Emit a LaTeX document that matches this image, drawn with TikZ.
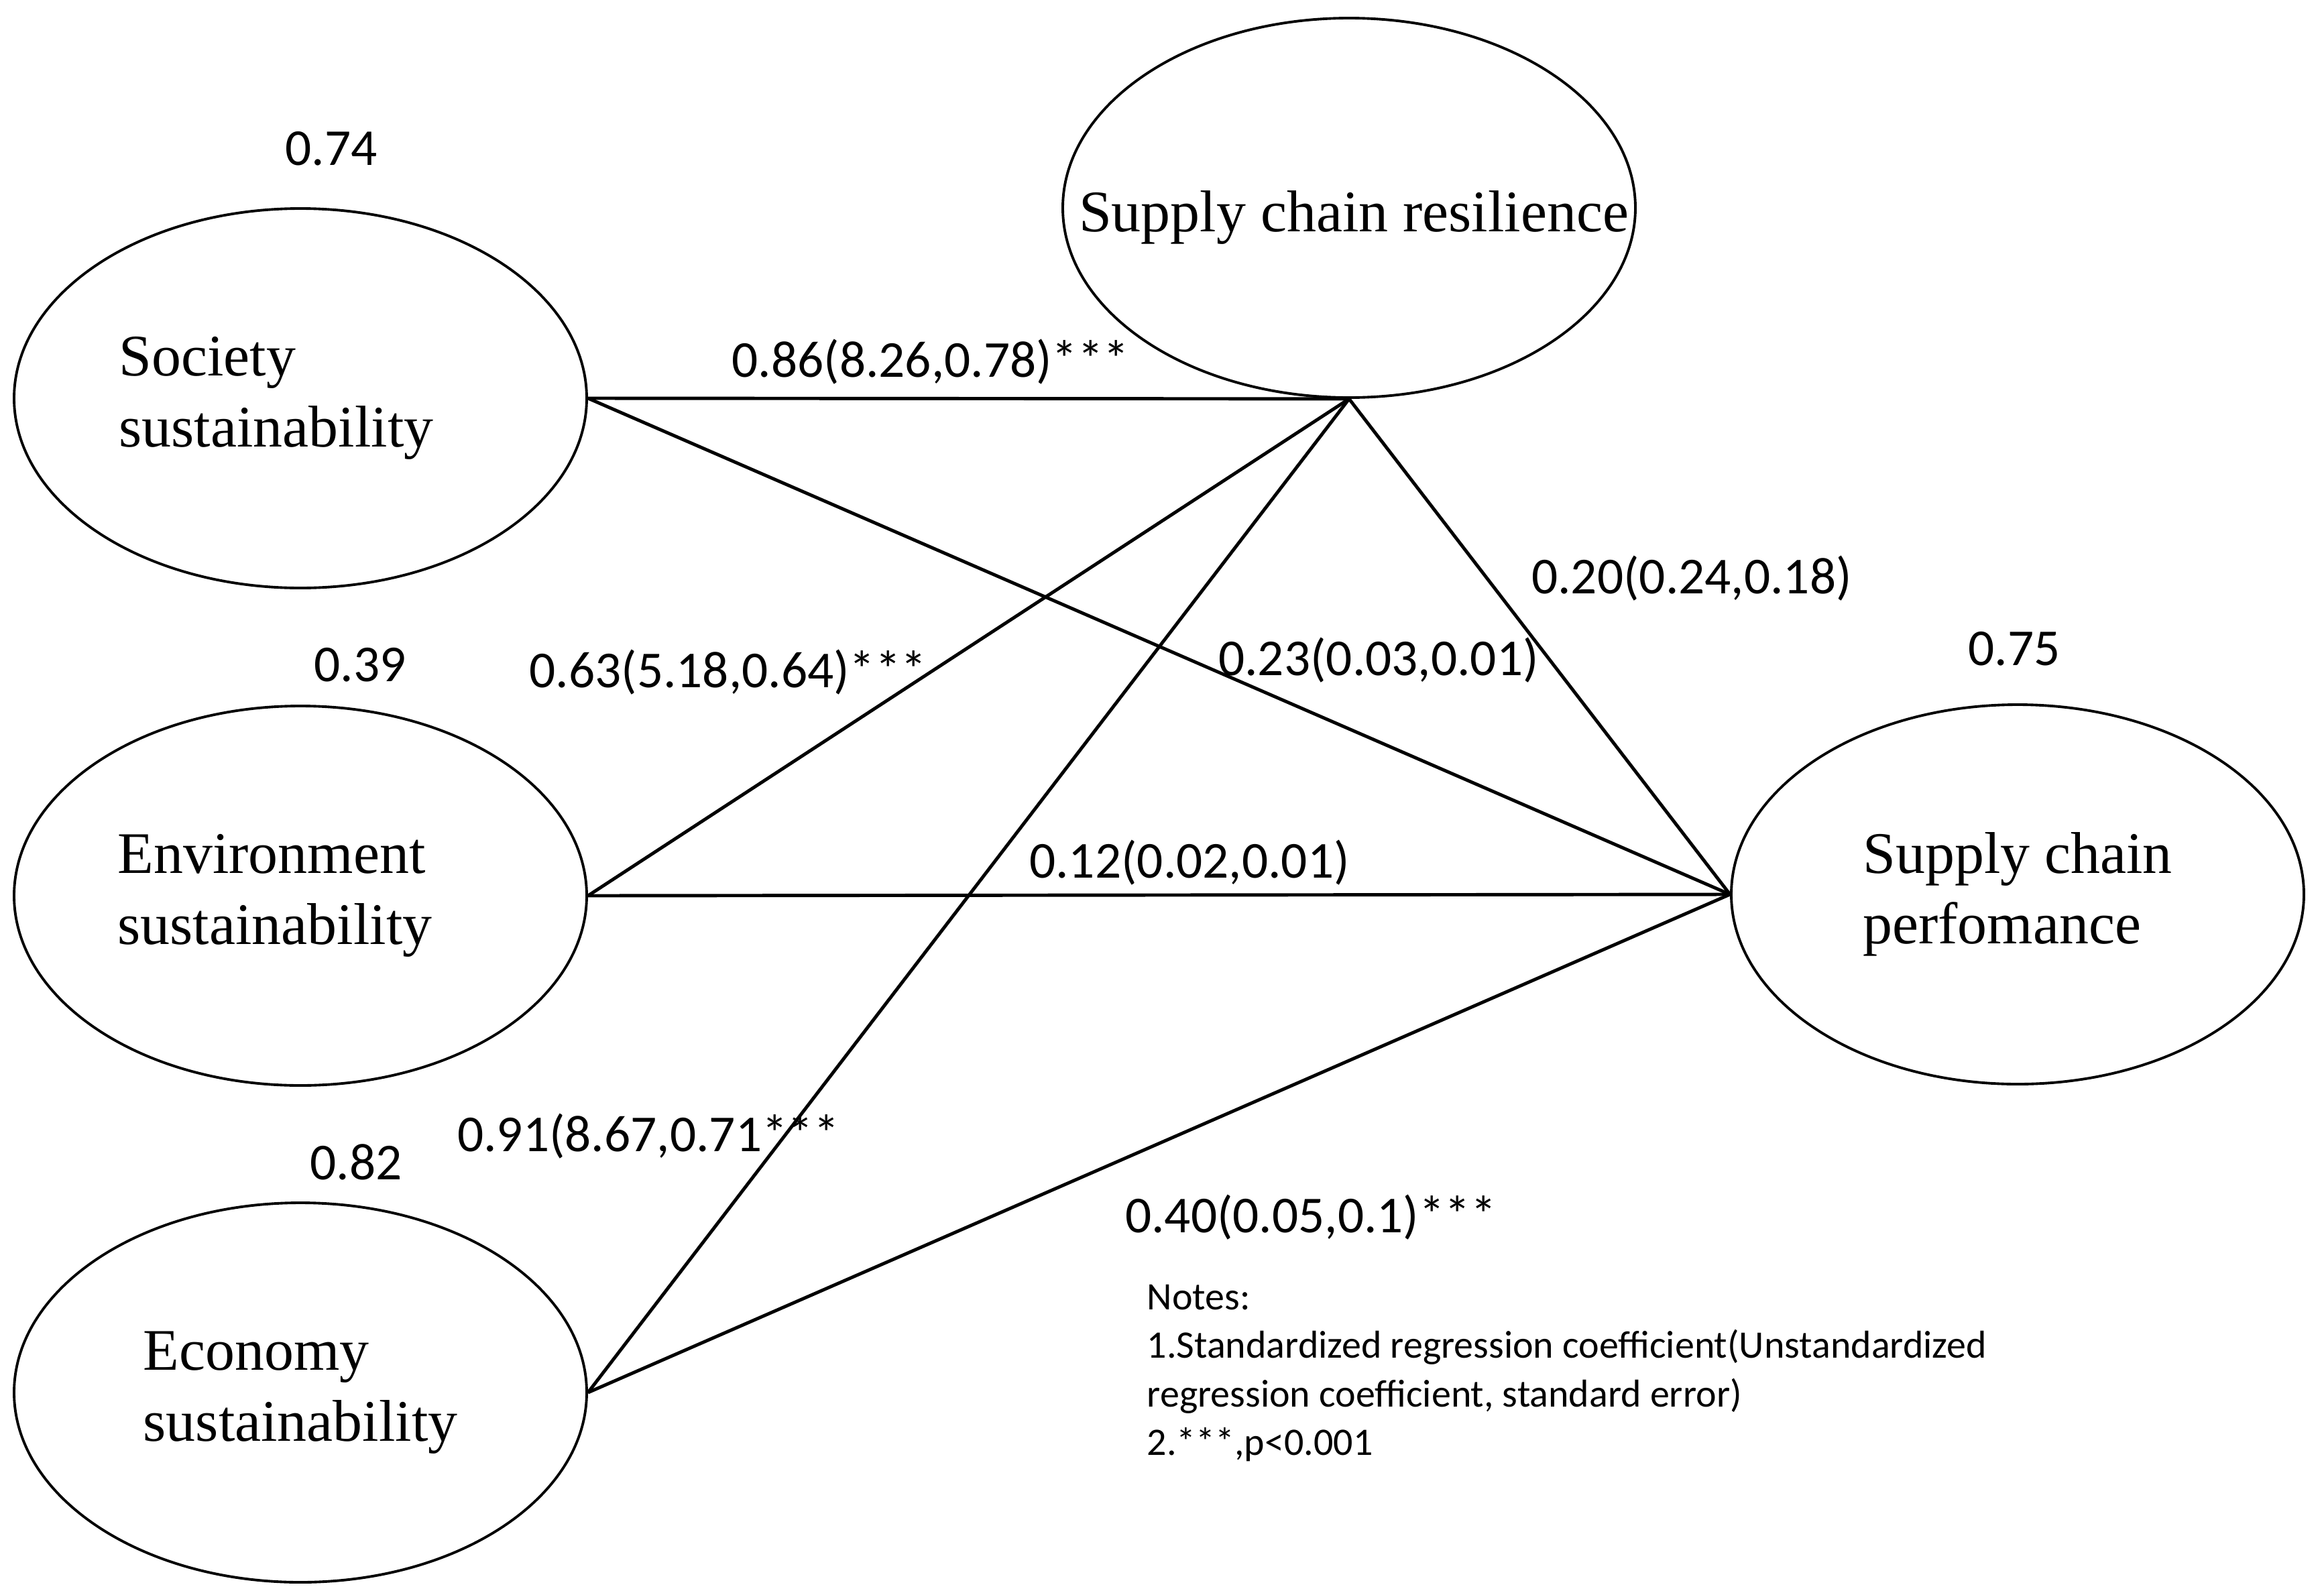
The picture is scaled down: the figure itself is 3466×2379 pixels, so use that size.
\documentclass[tikz,border=0pt]{standalone}
\usepackage{fontspec}
\setmainfont{Liberation Serif}
\newfontfamily\calib{Carlito}
\usetikzlibrary{shapes.geometric}

\begin{document}
\begin{tikzpicture}[x=0.1mm, y=-0.1mm,
  latent/.style={draw, line width=1.1pt, ellipse, inner sep=0pt,
    minimum width=8.54cm, minimum height=5.66cm, align=left,
    font=\fontsize{25}{30}\selectfont},
  latenttext/.style={inner sep=0pt, align=left, font=\fontsize{25}{30}\selectfont},
  coef/.style={inner sep=0pt, font=\calib\fontsize{22}{26}\selectfont},
  link/.style={line width=1.4pt}]
\useasboundingbox (0,0) rectangle (3466,2379);
% constructs
\node[latent] (soc) at (448,594) {};
\node[latenttext, anchor=west] (soctext) at (177,594) {Society\\sustainability};
\node[latent] (env) at (448,1336) {};
\node[latenttext, anchor=west] (envtext) at (175,1336) {Environment\\sustainability};
\node[latent] (eco) at (448,2077) {Economy\\sustainability};
\node[latent] (res) at (2012,310) {};
\node[latenttext] (restext) at (2019,324) {Supply chain resilience};
\node[latent] (perf) at (3009,1334) {Supply chain\\perfomance};
%
\node[coef] (r2soc) at (494,222) {0.74};
\node[coef] (r2env) at (537,992) {0.39};
\node[coef] (r2eco) at (531,1733) {0.82};
\node[coef] (r2perf) at (3004,968) {0.75};
% paths
\draw[link] (soc.east) -- (res.south);
\draw[link] (soc.east) -- (perf.west);
\draw[link] (env.east) -- (res.south);
\draw[link] (env.east) -- (perf.west);
\draw[link] (eco.east) -- (res.south);
\draw[link] (eco.east) -- (perf.west);
\draw[link] (res.south) -- (perf.west);
%
\node[coef] (csocres) at (1388,540) {0.86(8.26,0.78)***};
\node[coef] (cenvres) at (1086,1003) {0.63(5.18,0.64)***};
\node[coef] (cecores) at (967,1695) {0.91(8.67,0.71***};
\node[coef] (csocperf) at (2056,985) {0.23(0.03,0.01)};
\node[coef] (cresperf) at (2523,863) {0.20(0.24,0.18)};
\node[coef] (cenvperf) at (1774,1287) {0.12(0.02,0.01)};
\node[coef] (cecoperf) at (1955,1816) {0.40(0.05,0.1)***};
%
\node[inner sep=0pt, anchor=north west, align=left,
  font=\calib\fontsize{16.5}{20.5}\selectfont] (notes) at (1710,1916)
  {Notes:\\1.Standardized regression coefficient(Unstandardized\\regression coefficient, standard error)\\2.***,p<0.001};
\end{tikzpicture}
\end{document}
